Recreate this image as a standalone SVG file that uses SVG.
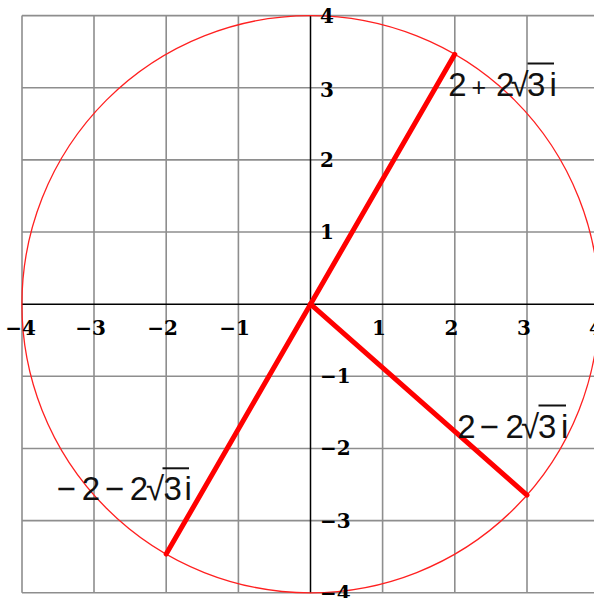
<svg xmlns="http://www.w3.org/2000/svg" width="594" height="598" viewBox="0 0 594 598">
<style>
.grid{stroke:#8e8e8e;stroke-width:1.6;fill:none}
.axis{stroke:#000;stroke-width:1.5;fill:none}
.circ{stroke:#ff2020;stroke-width:1.3;fill:none}
.vec{stroke:#ff0000;stroke-width:5;stroke-linecap:round;fill:none}
.tick{font-family:"DejaVu Serif","Liberation Serif",serif;font-weight:bold;font-size:20px;fill:#000}
.lab{font-family:"Liberation Sans",Arial,sans-serif;font-size:33px;fill:#111}
.vin{stroke:#111;stroke-width:2;fill:none}
</style>
<rect width="594" height="598" fill="#fff"/>
<g id="grid">
<path class="grid" d="M22 15.6V592.8M94 15.6V592.8M166.2 15.6V592.8M238.4 15.6V592.8M382.6 15.6V592.8M454.8 15.6V592.8M527 15.6V592.8M22 15.6H594M22 87.8H594M22 159.9H594M22 232H594M22 376.3H594M22 448.5H594M22 520.6H594M22 592.8H594"/>
</g>
<g id="axes">
<path class="axis" d="M22 304.2H594M310.5 15.6V592.8"/>
</g>
<g id="circle">
<circle class="circ" cx="310.5" cy="304.2" r="288.6"/>
</g>
<g id="connectors">
<line class="vec" x1="310.5" y1="304.2" x2="454.8" y2="54.3"/>
<line class="vec" x1="310.5" y1="304.2" x2="166.2" y2="554.1"/>
<line class="vec" x1="310.5" y1="304.2" x2="527" y2="495.1"/>
</g>
<g id="x-ticks" class="tick" text-anchor="end">
<text x="36" y="335">−4</text>
<text x="106" y="335">−3</text>
<text x="178" y="335">−2</text>
<text x="250" y="335">−1</text>
<text x="386" y="335">1</text>
<text x="458.5" y="335">2</text>
<text x="531" y="335">3</text>
<text x="603" y="335">4</text>
</g>
<g id="y-ticks" class="tick">
<text x="320" y="23">4</text>
<text x="320" y="96.5">3</text>
<text x="320" y="166.7">2</text>
<text x="320" y="238.5">1</text>
<text x="320" y="383">−1</text>
<text x="320" y="455">−2</text>
<text x="320" y="527.5">−3</text>
<text x="320" y="600">−4</text>
</g>
<g id="label-p1">
<text class="lab" y="95.7"><tspan x="448.3">2</tspan><tspan x="471.6" font-size="25">+</tspan><tspan x="496">2</tspan><tspan x="510.5">√</tspan><tspan x="527">3</tspan><tspan x="549.5">i</tspan></text>
<line class="vin" x1="527.5" y1="63.5" x2="554" y2="63.5"/>
</g>
<g id="label-p2">
<text class="lab" y="437.5"><tspan x="457.3">2</tspan><tspan x="479.5">−</tspan><tspan x="505.5">2</tspan><tspan x="521">√</tspan><tspan x="538">3</tspan><tspan x="561">i</tspan></text>
<line class="vin" x1="538.5" y1="405.5" x2="566" y2="405.5"/>
</g>
<g id="label-p3">
<text class="lab" y="500"><tspan x="56.4">−</tspan><tspan x="81.7">2</tspan><tspan x="104.8">−</tspan><tspan x="129.7">2</tspan><tspan x="146">√</tspan><tspan x="163.6">3</tspan><tspan x="184.5">i</tspan></text>
<line class="vin" x1="162.5" y1="468.3" x2="189" y2="468.3"/>
</g>
</svg>
